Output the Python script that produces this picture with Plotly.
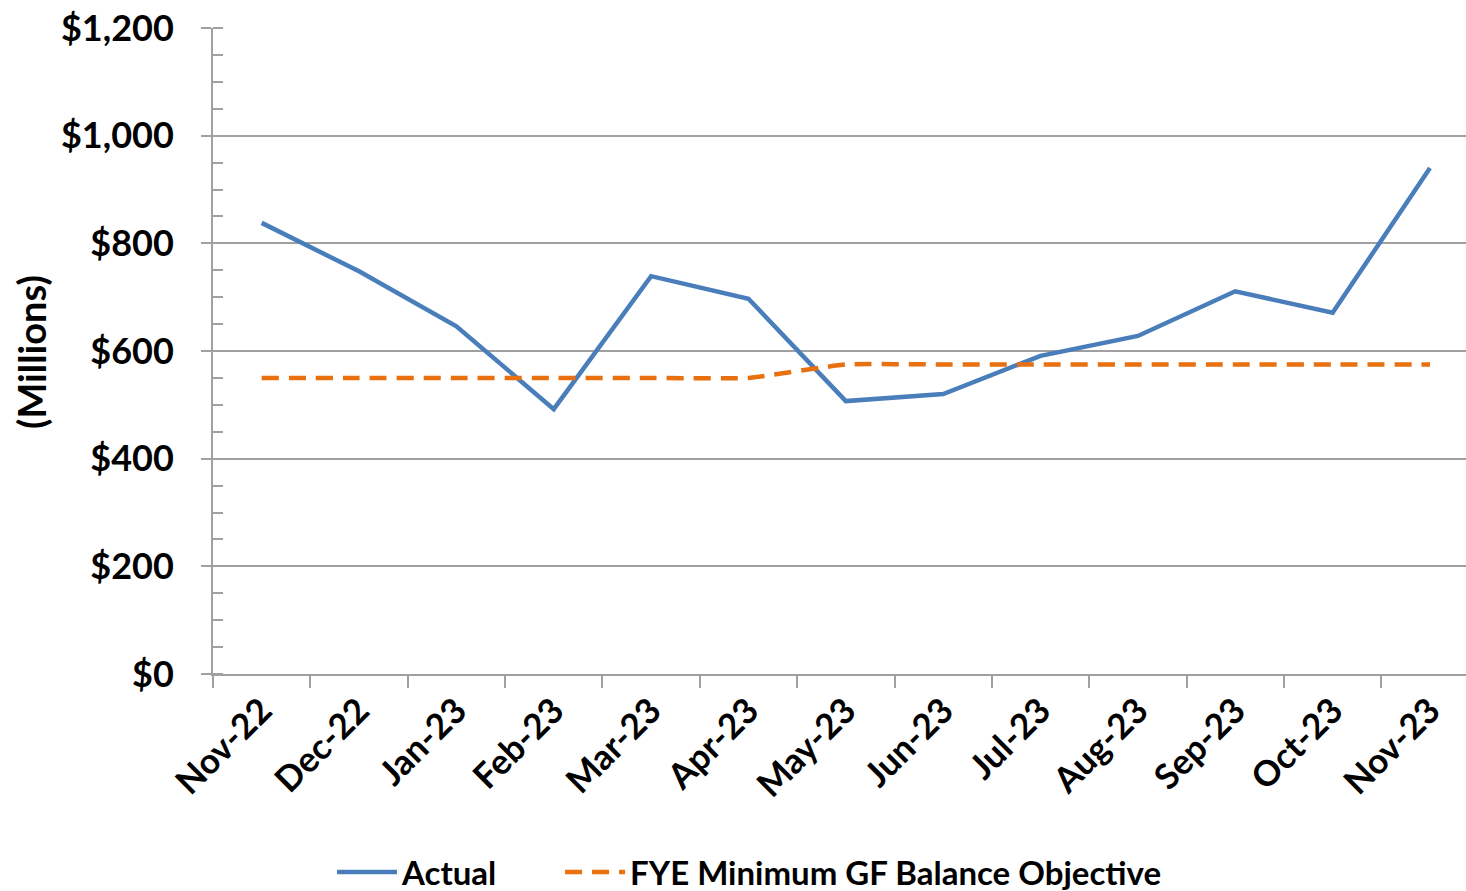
import plotly.graph_objects as go

months = ["Nov-22", "Dec-22", "Jan-23", "Feb-23", "Mar-23", "Apr-23", "May-23",
          "Jun-23", "Jul-23", "Aug-23", "Sep-23", "Oct-23", "Nov-23"]
actual = [838, 748, 646, 492, 739, 697, 507, 520, 591, 628, 711, 671, 940]
objective = [550, 550, 550, 550, 550, 550, 575, 575, 575, 575, 575, 575, 575]

FONT = "Lato"
BLUE = "#4A7EBB"
ORANGE = "#E8700F"
GRID = "#A0A0A0"

fig = go.Figure()
fig.add_trace(go.Scatter(
    x=months, y=actual, name="Actual", mode="lines",
    line=dict(color=BLUE, width=4.5), legend="legend"))
fig.add_trace(go.Scatter(
    x=months, y=objective, name="FYE Minimum GF Balance Objective", mode="lines",
    line=dict(color=ORANGE, width=4.5, dash="17px,10px", shape="spline", smoothing=0.4),
    legend="legend2"))

legend_common = dict(orientation="h", yanchor="middle", xanchor="left", itemwidth=60,
                     font=dict(family=FONT, size=33, color="black", weight="bold"),
                     bgcolor="rgba(0,0,0,0)")
fig.update_layout(
    width=1466, height=891,
    margin=dict(l=213, r=0, t=28, b=217, autoexpand=False),
    paper_bgcolor="white", plot_bgcolor="white",
    font=dict(family=FONT, color="black"),
    showlegend=True,
    legend=dict(x=0.095, y=-0.3065, **legend_common),
    legend2=dict(x=0.277, y=-0.3065, **legend_common),
)
fig.update_xaxes(
    type="category", range=[-0.5, 12.37], automargin=False,
    showgrid=False, showline=True, linecolor=GRID, linewidth=2,
    ticks="outside", tickson="boundaries", ticklen=12, tickcolor=GRID, tickwidth=2,
    tickangle=-45, tickfont=dict(family=FONT, size=35, color="black", weight="bold"),
    zeroline=False,
)
fig.update_yaxes(
    range=[0, 1200], dtick=200, tickprefix="$", tickformat=",", automargin=False,
    showgrid=True, gridcolor=GRID, gridwidth=1.5,
    showline=True, linecolor=GRID, linewidth=2,
    ticks="outside", ticklen=10, tickcolor=GRID, tickwidth=2,
    minor=dict(ticks="inside", dtick=50, ticklen=10, tickcolor=GRID, tickwidth=1.5, showgrid=False),
    ticklabelstandoff=20,
    tickfont=dict(family=FONT, size=36, color="black", weight="bold"),
    zeroline=False,
)
fig.add_annotation(
    text="(Millions)", xref="paper", yref="paper",
    x=(31 - 213) / 1253, y=(674 - 352) / 646, xanchor="center", yanchor="middle",
    textangle=-90, showarrow=False,
    font=dict(family=FONT, size=38, color="black", weight="bold"),
)
fig.write_html("out.html", config={"displayModeBar": False},
               post_script="document.body.style.margin='0';")
